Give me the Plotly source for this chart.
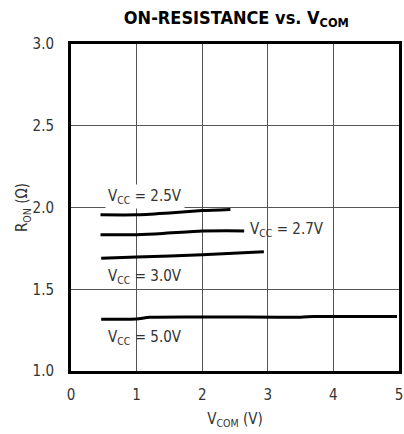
import plotly.graph_objects as go

x_25 = [0.45, 1.0, 1.5, 2.0, 2.43]
y_25 = [1.955, 1.955, 1.967, 1.981, 1.988]
x_27 = [0.45, 1.0, 1.4, 2.0, 2.64]
y_27 = [1.833, 1.834, 1.841, 1.856, 1.857]
x_30 = [0.46, 1.0, 2.0, 2.94]
y_30 = [1.690, 1.697, 1.711, 1.729]
x_50 = [0.46, 1.0, 1.2, 3.5, 3.7, 4.97]
y_50 = [1.317, 1.318, 1.329, 1.329, 1.333, 1.333]

labels = ["V<sub>CC</sub> = 2.5V", "V<sub>CC</sub> = 2.7V", "V<sub>CC</sub> = 3.0V", "V<sub>CC</sub> = 5.0V"]
label_x = [0.52, 2.68, 0.52, 0.52]
label_y = [2.068, 1.867, 1.58, 1.207]

x_ticks = [0, 1, 2, 3, 4, 5]
y_ticks = [1.0, 1.5, 2.0, 2.5, 3.0]

FONT = "DejaVu Sans Condensed, Liberation Sans Narrow, Roboto, sans-serif"
TXT = "#333"

fig = go.Figure()
for xs, ys in [(x_25, y_25), (x_27, y_27), (x_30, y_30), (x_50, y_50)]:
    fig.add_trace(go.Scatter(x=xs, y=ys, mode="lines",
                             line=dict(color="black", width=3, shape="spline", smoothing=0.6),
                             showlegend=False, hoverinfo="skip"))

for i, (t, lx, ly) in enumerate(zip(labels, label_x, label_y)):
    fig.add_annotation(x=lx, y=ly, text=t, showarrow=False, xanchor="left", yanchor="middle",
                       font=dict(family=FONT, size=15, color=TXT),
                       bgcolor="white" if i == 0 else "rgba(0,0,0,0)", borderpad=2)

fig.update_layout(
    width=404, height=434,
    margin=dict(l=71, r=5, t=44, b=63),
    paper_bgcolor="white", plot_bgcolor="white",
    font=dict(family=FONT, size=15, color=TXT),
    title=dict(text="<b>ON-RESISTANCE vs. V<sub>COM</sub></b>", x=0.585, xanchor="center",
               y=0.96, yanchor="middle", font=dict(family=FONT, size=18, color="black")),
    xaxis=dict(range=[0, 5], tickvals=x_ticks, ticktext=[str(v) for v in x_ticks],
               showgrid=True, gridcolor="#555", gridwidth=1, zeroline=False,
               showline=True, linecolor="black", linewidth=3, mirror=True, ticks="",
               ticklabelstandoff=8, automargin=False,
               title=dict(text="V<sub>COM</sub> (V)", standoff=11, font=dict(size=15)),
               tickfont=dict(size=15)),
    yaxis=dict(range=[1.0, 3.0], tickvals=y_ticks, ticktext=[f"{v:.1f}" for v in y_ticks],
               showgrid=True, gridcolor="#555", gridwidth=1, zeroline=False,
               showline=True, linecolor="black", linewidth=3, mirror=True, ticks="",
               ticklabelstandoff=11, automargin=False,
               title=dict(text="R<sub>ON</sub> (Ω)", standoff=0, font=dict(size=15)),
               tickfont=dict(size=15)),
)

fig.write_html("out.html", config={"displayModeBar": False},
               post_script="document.body.style.margin='0';document.body.style.padding='0';")
